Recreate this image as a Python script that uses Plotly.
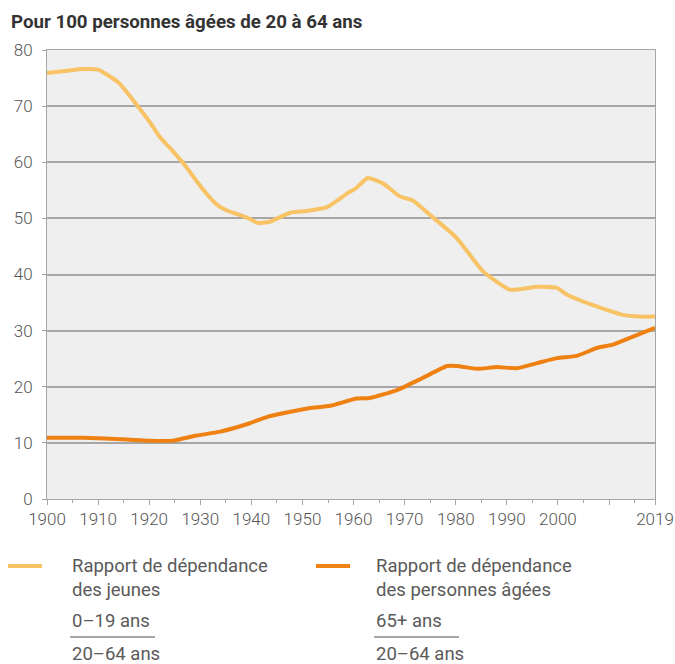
import plotly.graph_objects as go

# Young dependency ratio (0-19 / 20-64)
young_years = [1900, 1904, 1907, 1910, 1914, 1917.5, 1920, 1922, 1924.7, 1926.6, 1930.5, 1933.3, 1935.2,
               1939, 1941.3, 1943.6, 1947.6, 1950.8, 1954.8, 1958.7, 1960.5, 1962.8, 1965.8, 1969.1,
               1971.6, 1975, 1980.2, 1985.3, 1990.6, 1995.9, 1999.8, 2001.8, 2007.6, 2012.7, 2016, 2019]
young_vals = [75.9, 76.3, 76.6, 76.5, 74.2, 70.3, 67.3, 64.6, 61.9, 59.9, 55.2, 52.4, 51.4,
              50.2, 49.2, 49.4, 51.0, 51.3, 52.0, 54.4, 55.4, 57.2, 56.2, 53.9,
              53.2, 50.6, 46.5, 40.6, 37.3, 37.8, 37.6, 36.4, 34.3, 32.8, 32.5, 32.5]

# Old-age dependency ratio (65+ / 20-64)
old_years = [1900, 1907, 1915.6, 1920, 1924.7, 1929.3, 1933.9, 1939.7, 1943, 1946.9, 1951.5, 1955.4,
             1960.6, 1963.2, 1968.5, 1973.6, 1978.3, 1980.2, 1984.2, 1988.1, 1992, 1995.9, 1999.8,
             2003.7, 2007.6, 2010.8, 2014.1, 2019]
old_vals = [10.9, 10.9, 10.6, 10.4, 10.4, 11.3, 12.0, 13.5, 14.6, 15.4, 16.2, 16.6,
            17.9, 18.0, 19.4, 21.6, 23.7, 23.7, 23.2, 23.5, 23.3, 24.2, 25.1,
            25.5, 26.9, 27.5, 28.7, 30.5]

x_tickvals = [1900, 1910, 1920, 1930, 1940, 1950, 1960, 1970, 1980, 1990, 2000, 2010, 2019]
x_ticktext = ["1900", "1910", "1920", "1930", "1940", "1950", "1960", "1970", "1980", "1990", "2000", "", "2019"]
y_tickvals = [0, 10, 20, 30, 40, 50, 60, 70, 80]

title_text = "Pour 100 personnes âgées de 20 à 64 ans"
legend_young = ["Rapport de dépendance", "des jeunes", "0–19 ans", "20–64 ans"]
legend_old = ["Rapport de dépendance", "des personnes âgées", "65+ ans", "20–64 ans"]

YOUNG_C = "#F7C365"
OLD_C = "#EF8012"
GRID_C = "#a6a6a6"
TXT_C = "#555555"

fig = go.Figure()
fig.add_trace(go.Scatter(x=young_years, y=young_vals, mode="lines",
                         line=dict(color=YOUNG_C, width=4, shape="spline", smoothing=0.5),
                         showlegend=False, hoverinfo="skip"))
fig.add_trace(go.Scatter(x=old_years, y=old_vals, mode="lines",
                         line=dict(color=OLD_C, width=4, shape="spline", smoothing=0.5),
                         showlegend=False, hoverinfo="skip"))

W, H = 675, 664
L, R, T, B = 47, 20, 50, 165
pw, ph = W - L - R, H - T - B

def px(xp):
    return (xp - L) / pw

def py(yp):
    return (H - B - yp) / ph

fig.update_layout(
    width=W, height=H,
    margin=dict(l=L, r=R, t=T, b=B, autoexpand=False),
    paper_bgcolor="white",
    plot_bgcolor="#efefef",
    font=dict(family="Roboto", color=TXT_C, size=16),
    xaxis=dict(range=[1900, 2019], tickvals=x_tickvals, ticktext=x_ticktext, automargin=False,
               showgrid=False, zeroline=False, showline=True, linecolor=GRID_C, linewidth=1,
               mirror=True, ticks="outside", ticklen=5, tickcolor=GRID_C,
               tickfont=dict(family="Roboto", size=17, color=TXT_C, weight=300),
               minor=dict(dtick=5, tick0=1900, ticks="outside", ticklen=3, tickcolor=GRID_C, showgrid=False)),
    yaxis=dict(range=[0, 80], tickvals=y_tickvals, showgrid=True, gridcolor=GRID_C, gridwidth=1.5,
               zeroline=False, showline=True, linecolor=GRID_C, linewidth=1, mirror=True, automargin=False,
               ticks="outside", ticklen=4, tickcolor=GRID_C, ticklabelstandoff=6,
               tickfont=dict(family="Roboto", size=17, color=TXT_C, weight=300)),
)

ann = []
ann.append(dict(text="<b>" + title_text + "</b>", xref="paper", yref="paper",
                x=px(9), y=py(22), xanchor="left", yanchor="middle", showarrow=False,
                font=dict(family="Roboto", size=18.7, color="#333333")))

shapes = []

def legend_block(line_x0, line_x1, text_x, color, lines):
    shapes.append(dict(type="line", xref="paper", yref="paper",
                       x0=px(line_x0), x1=px(line_x1), y0=py(566), y1=py(566),
                       line=dict(color=color, width=4)))
    ys = [566, 590, 621, 654]
    for t, yv in zip(lines, ys):
        ann.append(dict(text=t, xref="paper", yref="paper", x=px(text_x), y=py(yv),
                        xanchor="left", yanchor="middle", showarrow=False,
                        font=dict(family="Roboto", size=18.5, color="#5a5a5a")))
    shapes.append(dict(type="line", xref="paper", yref="paper",
                       x0=px(text_x), x1=px(text_x + 85), y0=py(637), y1=py(637),
                       line=dict(color="#888888", width=1.5)))

legend_block(8, 42, 70, YOUNG_C, legend_young)
legend_block(316, 350, 374, OLD_C, legend_old)

fig.update_layout(annotations=ann, shapes=shapes)
fig.write_html("out.html", config={"displayModeBar": False},
               post_script="document.body.style.margin='0';document.body.style.overflow='hidden';")
